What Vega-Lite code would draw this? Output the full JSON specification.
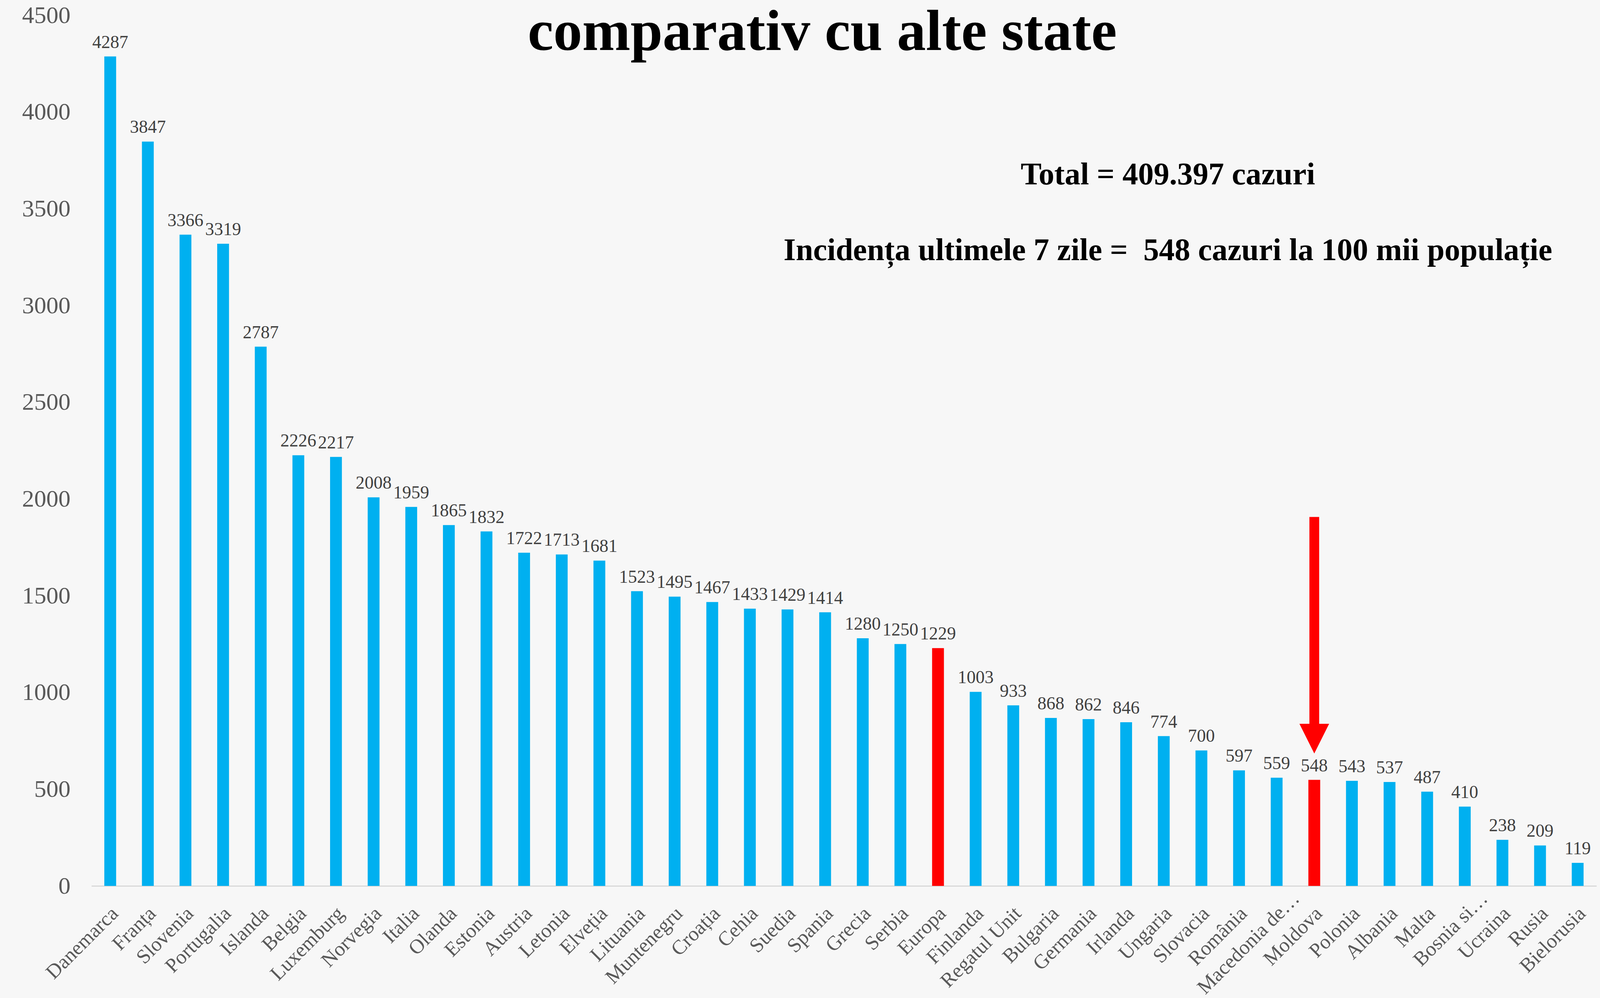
{
  "$schema": "https://vega.github.io/schema/vega-lite/v6.json",
  "width": "container",
  "height": 2555,
  "autosize": {"type": "fit", "contains": "padding"},
  "padding": {"left": 56, "top": 8, "right": 9, "bottom": 0},
  "background": "#f7f7f7",
  "config": {"view": {"stroke": null}, "font": "Liberation Serif"},
  "datasets": {
    "bars": [
      {"country": "Danemarca", "value": 4287, "kind": "tara"},
      {"country": "Franța", "value": 3847, "kind": "tara"},
      {"country": "Slovenia", "value": 3366, "kind": "tara"},
      {"country": "Portugalia", "value": 3319, "kind": "tara"},
      {"country": "Islanda", "value": 2787, "kind": "tara"},
      {"country": "Belgia", "value": 2226, "kind": "tara"},
      {"country": "Luxemburg", "value": 2217, "kind": "tara"},
      {"country": "Norvegia", "value": 2008, "kind": "tara"},
      {"country": "Italia", "value": 1959, "kind": "tara"},
      {"country": "Olanda", "value": 1865, "kind": "tara"},
      {"country": "Estonia", "value": 1832, "kind": "tara"},
      {"country": "Austria", "value": 1722, "kind": "tara"},
      {"country": "Letonia", "value": 1713, "kind": "tara"},
      {"country": "Elveția", "value": 1681, "kind": "tara"},
      {"country": "Lituania", "value": 1523, "kind": "tara"},
      {"country": "Muntenegru", "value": 1495, "kind": "tara"},
      {"country": "Croația", "value": 1467, "kind": "tara"},
      {"country": "Cehia", "value": 1433, "kind": "tara"},
      {"country": "Suedia", "value": 1429, "kind": "tara"},
      {"country": "Spania", "value": 1414, "kind": "tara"},
      {"country": "Grecia", "value": 1280, "kind": "tara"},
      {"country": "Serbia", "value": 1250, "kind": "tara"},
      {"country": "Europa", "value": 1229, "kind": "evidentiat"},
      {"country": "Finlanda", "value": 1003, "kind": "tara"},
      {"country": "Regatul Unit", "value": 933, "kind": "tara"},
      {"country": "Bulgaria", "value": 868, "kind": "tara"},
      {"country": "Germania", "value": 862, "kind": "tara"},
      {"country": "Irlanda", "value": 846, "kind": "tara"},
      {"country": "Ungaria", "value": 774, "kind": "tara"},
      {"country": "Slovacia", "value": 700, "kind": "tara"},
      {"country": "România", "value": 597, "kind": "tara"},
      {"country": "Macedonia de…", "value": 559, "kind": "tara"},
      {"country": "Moldova", "value": 548, "kind": "evidentiat"},
      {"country": "Polonia", "value": 543, "kind": "tara"},
      {"country": "Albania", "value": 537, "kind": "tara"},
      {"country": "Malta", "value": 487, "kind": "tara"},
      {"country": "Bosnia si…", "value": 410, "kind": "tara"},
      {"country": "Ucraina", "value": 238, "kind": "tara"},
      {"country": "Rusia", "value": 209, "kind": "tara"},
      {"country": "Bielorusia", "value": 119, "kind": "tara"}
    ],
    "arrow": [
      {"country": "Moldova", "top": 1907, "bottom": 790, "head": 761}
    ],
    "notes": [
      {"country": "Ungaria", "y": 3625, "text": "Total = 409.397 cazuri"},
      {"country": "Ungaria", "y": 3234, "text": "Incidența ultimele 7 zile =\u00a0 548 cazuri la 100 mii populație"}
    ],
    "title": [
      {"country": "Spania", "y": 4320, "text": "comparativ cu alte state"}
    ]
  },
  "encoding": {
    "x": {
      "field": "country",
      "type": "nominal",
      "sort": null,
      "scale": {
        "domain": ["Danemarca", "Franța", "Slovenia", "Portugalia", "Islanda", "Belgia", "Luxemburg", "Norvegia", "Italia", "Olanda", "Estonia", "Austria", "Letonia", "Elveția", "Lituania", "Muntenegru", "Croația", "Cehia", "Suedia", "Spania", "Grecia", "Serbia", "Europa", "Finlanda", "Regatul Unit", "Bulgaria", "Germania", "Irlanda", "Ungaria", "Slovacia", "România", "Macedonia de…", "Moldova", "Polonia", "Albania", "Malta", "Bosnia si…", "Ucraina", "Rusia", "Bielorusia"],
        "paddingInner": 0.686,
        "paddingOuter": 0.343
      },
      "axis": {
        "title": null,
        "ticks": false,
        "domainColor": "#d9d9d9",
        "domainWidth": 3,
        "labelAngle": -45,
        "labelAlign": "right",
        "labelBaseline": "middle",
        "labelPadding": {"condition": {"test": "indexof(datum.value, '…') >= 0", "value": 24}, "value": 62},
        "labelOffset": {"condition": {"test": "indexof(datum.value, '…') >= 0", "value": 50}, "value": 12},
        "labelFont": "Liberation Serif",
        "labelFontSize": 52,
        "labelColor": "#595959",
        "labelOverlap": false,
        "labelLimit": 1000
      }
    }
  },
  "layer": [
    {
      "data": {"name": "bars"},
      "mark": {"type": "bar"},
      "encoding": {
        "y": {
          "field": "value",
          "type": "quantitative",
          "scale": {"domain": [0, 4500], "nice": false},
          "axis": {
            "title": null,
            "values": [0, 500, 1000, 1500, 2000, 2500, 3000, 3500, 4000, 4500],
            "format": "d",
            "grid": false,
            "domain": false,
            "ticks": false,
            "labelPadding": 54,
            "labelFont": "Liberation Serif",
            "labelFontSize": 62,
            "labelColor": "#595959"
          }
        },
        "color": {
          "field": "kind",
          "type": "nominal",
          "scale": {"domain": ["tara", "evidentiat"], "range": ["#00b0f0", "#ff0000"]},
          "legend": null
        }
      }
    },
    {
      "data": {"name": "bars"},
      "mark": {"type": "text", "baseline": "alphabetic", "dy": -22, "fontSize": 46, "font": "Liberation Serif", "color": "#404040"},
      "encoding": {
        "y": {"field": "value", "type": "quantitative"},
        "text": {"field": "value", "type": "quantitative", "format": "d"}
      }
    },
    {
      "data": {"name": "arrow"},
      "mark": {"type": "rule", "color": "#ff0000", "strokeWidth": 25, "strokeCap": "butt"},
      "encoding": {
        "y": {"field": "top", "type": "quantitative"},
        "y2": {"field": "bottom"}
      }
    },
    {
      "data": {"name": "arrow"},
      "mark": {"type": "point", "shape": "M-1,-1L1,-1L0,1Z", "filled": true, "color": "#ff0000", "opacity": 1, "size": 5776, "strokeWidth": 0},
      "encoding": {
        "y": {"field": "head", "type": "quantitative"}
      }
    },
    {
      "data": {"name": "notes"},
      "mark": {"type": "text", "baseline": "alphabetic", "align": "center", "fontSize": 80, "fontWeight": "bold", "font": "Liberation Serif", "color": "#000000"},
      "encoding": {
        "x": {"field": "country", "type": "nominal", "bandPosition": 0.85},
        "y": {"field": "y", "type": "quantitative"},
        "text": {"field": "text", "type": "nominal"}
      }
    },
    {
      "data": {"name": "title"},
      "mark": {"type": "text", "baseline": "alphabetic", "align": "center", "fontSize": 148, "fontWeight": "bold", "font": "Liberation Serif", "color": "#000000"},
      "encoding": {
        "x": {"field": "country", "type": "nominal", "bandPosition": 0.26},
        "y": {"field": "y", "type": "quantitative"},
        "text": {"field": "text", "type": "nominal"}
      }
    }
  ]
}
